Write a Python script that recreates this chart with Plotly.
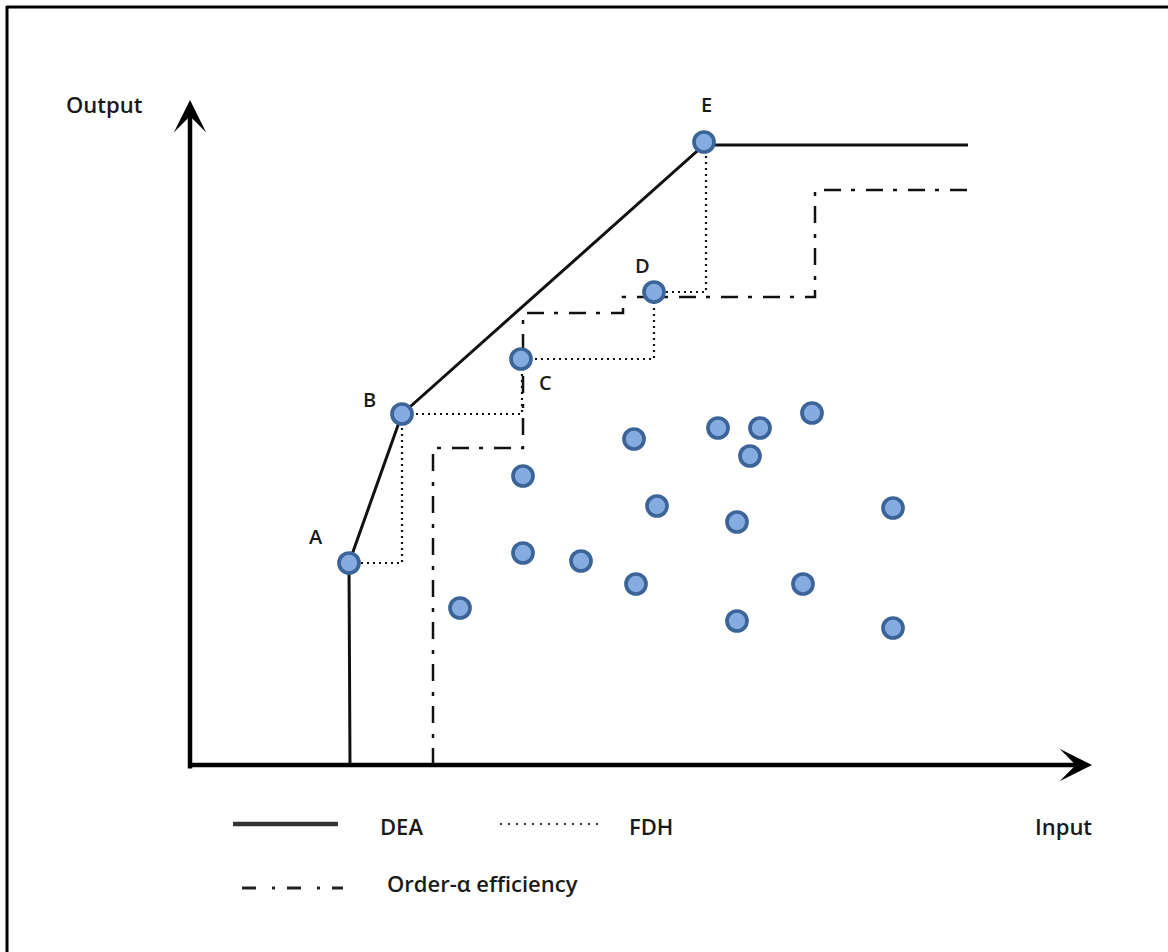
import plotly.graph_objects as go

# ---- data (abstract input/output units, origin at the axes crossing) ----
dmu_labels = ["A", "B", "C", "D", "E"]
dmu_x = [159, 212, 331, 464, 514]
dmu_y = [202, 351, 406, 473, 623]

other_x = [270, 333, 333, 391, 444, 467, 446, 528, 570, 560, 622, 547, 613, 547, 703, 703]
other_y = [157, 289, 212, 204, 326, 259, 181, 337, 337, 309, 352, 243, 181, 144, 257, 137]

dea_x = [160, 159, 212, 514, 778]
dea_y = [0, 202, 351, 620, 620]

fdh_x = [159, 212, 212, 332, 332, 464, 464, 516, 516]
fdh_y = [202, 202, 351, 351, 406, 406, 473, 473, 623]

alpha_x = [243, 243, 333, 333, 433, 433, 625, 625, 787]
alpha_y = [0, 317, 317, 452, 452, 468, 468, 575, 575]

axis_x_tip = 902
axis_y_tip = 665

FONT = "Open Sans"
BLACK = "#000000"

fig = go.Figure()

fig.add_trace(go.Scatter(x=dea_x, y=dea_y, mode="lines",
                         line=dict(color="#111111", width=3), hoverinfo="skip"))
fig.add_trace(go.Scatter(x=fdh_x, y=fdh_y, mode="lines",
                         line=dict(color="#111111", width=2.2, dash="2px,4px"), hoverinfo="skip"))
fig.add_trace(go.Scatter(x=alpha_x, y=alpha_y, mode="lines",
                         line=dict(color="#111111", width=2.5, dash="17px,10px,4px,11px"), hoverinfo="skip"))

marker = dict(size=20, color="#85ACE0", line=dict(color="#3B6599", width=3.7))
fig.add_trace(go.Scatter(x=other_x, y=other_y, mode="markers", marker=marker, hoverinfo="skip"))
fig.add_trace(go.Scatter(x=dmu_x, y=dmu_y, mode="markers", marker=marker, hoverinfo="skip"))

# legend samples (drawn manually, in the axes' units)
fig.add_trace(go.Scatter(x=[43, 148], y=[-59, -59], mode="lines",
                         line=dict(color="#333333", width=4.5), hoverinfo="skip"))
fig.add_trace(go.Scatter(x=[310, 410], y=[-59, -59], mode="lines",
                         line=dict(color="#333333", width=2, dash="2px,6px"), hoverinfo="skip"))
fig.add_trace(go.Scatter(x=[52, 153], y=[-123, -123], mode="lines",
                         line=dict(color="#222222", width=2.8, dash="14px,16px,3px,12px"), hoverinfo="skip"))

annotations = []
# axes with arrow heads
annotations.append(dict(x=0, y=axis_y_tip, ax=0, ay=-5, xref="x", yref="y", axref="x", ayref="y",
                        showarrow=True, arrowhead=3, arrowsize=1.2, arrowwidth=4.5,
                        arrowcolor=BLACK, text="", standoff=0))
annotations.append(dict(x=axis_x_tip, y=0, ax=-3, ay=0, xref="x", yref="y", axref="x", ayref="y",
                        showarrow=True, arrowhead=3, arrowsize=1.2, arrowwidth=4.5,
                        arrowcolor=BLACK, text="", standoff=0))

label_shift = {"A": (-33, 27), "B": (-33, 15), "C": (24, -23), "D": (-12, 27), "E": (2, 38)}
for lab, x, y in zip(dmu_labels, dmu_x, dmu_y):
    dx, dy = label_shift[lab]
    annotations.append(dict(x=x, y=y, xref="x", yref="y", text=lab, showarrow=False,
                            xshift=dx, yshift=dy,
                            font=dict(family=FONT, size=20, color="#1a1a1a", weight=600)))

texts = [("Output", -126, 661), ("Input", 843, -61), ("DEA", 188, -61),
         ("FDH", 437, -61), ("Order-α efficiency", 195, -118)]
for t, x, y in texts:
    annotations.append(dict(x=x, y=y, xref="x", yref="y", text=t, showarrow=False,
                            xanchor="left", yanchor="middle",
                            font=dict(family=FONT, size=22, color="#1a1a1a", weight=600)))

shapes = [
    dict(type="line", xref="paper", yref="paper", x0=0.0055, x1=1.0, y0=1 - 7 / 952, y1=1 - 7 / 952,
         line=dict(color=BLACK, width=3)),
    dict(type="line", xref="paper", yref="paper", x0=7 / 1168, x1=7 / 1168, y0=0, y1=1 - 6 / 952,
         line=dict(color=BLACK, width=3)),
]

fig.update_layout(
    width=1168, height=952, autosize=False,
    margin=dict(l=0, r=0, t=0, b=0),
    paper_bgcolor="white", plot_bgcolor="white",
    showlegend=False,
    xaxis=dict(range=[-190, 978], visible=False, fixedrange=True),
    yaxis=dict(range=[-187, 765], visible=False, fixedrange=True),
    annotations=annotations,
    shapes=shapes,
)

fig.write_html("out.html", config={"displayModeBar": False},
               post_script="document.body.style.margin='0px';document.body.style.overflow='hidden';")
